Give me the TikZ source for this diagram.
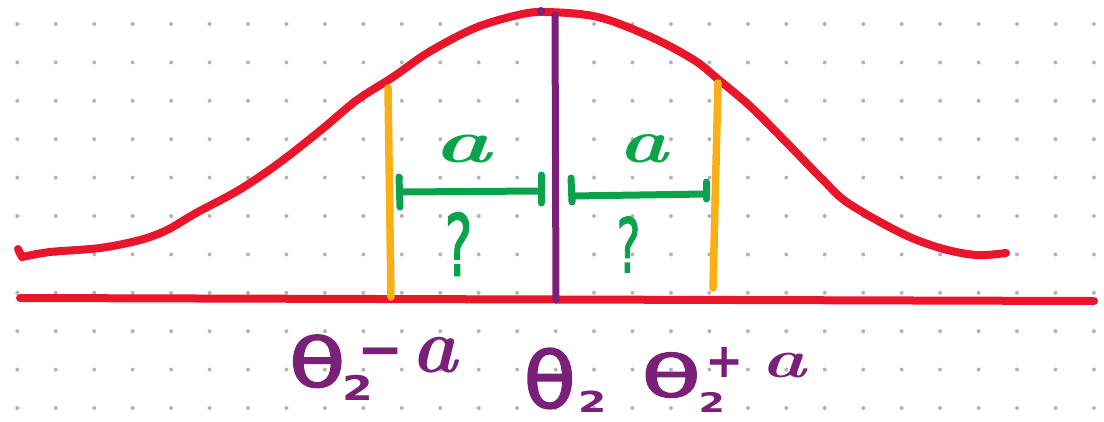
\documentclass[tikz,border=0pt]{standalone}
\usepackage{fontspec}
\newfontfamily\djv{DejaVu Sans}[FakeBold=2]
\newfontfamily\djb{DejaVu Sans Bold}
\definecolor{cred}{HTML}{E8152B}
\definecolor{corange}{HTML}{FBAF17}
\definecolor{cpurple}{HTML}{7B2079}
\definecolor{cgreen}{HTML}{0BA24C}
\definecolor{cdot}{HTML}{B4B4B4}
\newcommand{\pc}[3]{\rlap{\hspace*{#1pt}\raisebox{#2pt}{\makebox[0pt][c]{#3}}}}
\newcommand{\thg}[2]{\scalebox{#2}[1]{\djv\fontsize{#1}{#1}\selectfont θ}}
\newcommand{\dg}[3]{\scalebox{#2}[1]{\djv\fontsize{#1}{#1}\selectfont #3}}
\newcommand{\bg}[3]{\scalebox{#2}[1]{\djb\fontsize{#1}{#1}\selectfont #3}}
\newcommand{\ag}[2]{\scalebox{#2}[1]{\fontsize{#1}{#1}\selectfont\bfseries\itshape a}}
\tikzset{
  redline/.style={draw=cred, line width=8pt, line cap=round, line join=round},
  orangeline/.style={draw=corange, line width=7.5pt, line cap=round},
  purpline/.style={draw=cpurple, line width=7pt, line cap=round},
  greenline/.style={draw=cgreen, line width=7pt, line cap=round, line join=round},
  lbl/.style={inner sep=0pt, text=cpurple},
  glbl/.style={inner sep=0pt, text=cgreen},
}
\begin{document}
\begin{tikzpicture}[x=1pt,y=-1pt]
\useasboundingbox (0,0) rectangle (1104,421);
\fill[white] (0,0) rectangle (1104,421);
% dot grid
\foreach \i in {0,...,28}{\foreach \j in {0,...,10}{
  \fill[cdot] ({17.3+38.45*\i},{24+38.4*\j}) circle (2);}}
% bell curve
\draw[redline] (18,249) -- (22,257);
\draw[redline] plot[smooth, tension=0.55] coordinates {(22,257) (50,252) (100,248) (140,240) (167,230) (196,213) (239,190) (279,163) (321,130) (357,100) (393,77) (429,52) (475,28) (518,15) (546,12) (598,17) (651,37) (694,60) (719,80) (751,107) (787,143) (823,180) (848,203) (901,233) (940,248) (976,255) (1006,253)};
% axis
\coordinate (axl) at (20,298);
\coordinate (axr) at (1094,301);
\draw[redline] (axl) -- (axr);
% orange bounds
\coordinate (ol1) at (388,88); \coordinate (ol2) at (391,297);
\coordinate (or1) at (718,83); \coordinate (or2) at (713,288);
\draw[orangeline] (ol1) -- (ol2);
\draw[orangeline] (or1) -- (or2);
% purple centre
\coordinate (p1) at (555,15); \coordinate (p2) at (556,300);
\draw[purpline] (p1) -- (p2);
\fill[cpurple] (541,11) circle (4);
% green rulers
\coordinate (g1a) at (399,177); \coordinate (g1b) at (400,207);
\coordinate (g1c) at (400,192); \coordinate (g1d) at (541,191);
\coordinate (g1e) at (541,175); \coordinate (g1f) at (541,203);
\draw[greenline] (g1a) -- (g1b);
\draw[greenline] (g1c) -- (g1d);
\draw[greenline] (g1e) -- (g1f);
\coordinate (g2a) at (571,178); \coordinate (g2b) at (572,202);
\coordinate (g2c) at (572,196); \coordinate (g2d) at (706,194);
\coordinate (g2e) at (706,182); \coordinate (g2f) at (706,199);
\draw[greenline] (g2a) -- (g2b) -- (g2c) -- (g2d);
\draw[greenline] (g2e) -- (g2f);
% green labels
\node[glbl] (al) at (462.5,148.5) {\ag{61}{1.6}};
\node[glbl] (ar) at (643,149) {\ag{62}{1.35}};
\node[glbl] (ql) at (458.5,244) {\dg{85}{0.62}{?}};
\node[glbl] (qr) at (628.5,244.5) {\dg{75}{0.6}{?}};
% purple labels
\node[lbl, anchor=base west] (lab1) at (291,387)
  {\pc{26}{0}{\thg{68}{1.37}}\pc{66.5}{-13}{\bg{34}{1.3}{2}}\pc{89}{18}{\bg{58}{0.95}{−}}\pc{143.5}{15}{\ag{78}{1}}\hspace*{166pt}};
\node[lbl, anchor=base west] (lab2) at (525,408)
  {\pc{24.5}{0}{\thg{78}{1.1}}\pc{67}{-4}{\bg{29}{1.4}{2}}\hspace*{82pt}};
\node[lbl, anchor=base west] (lab3) at (643,397)
  {\pc{28}{0}{\thg{58}{1.7}}\pc{68.5}{-15}{\bg{27}{1.4}{2}}\pc{81}{20}{\bg{48}{0.95}{+}}\pc{140.5}{20}{\ag{54}{1.4}}\hspace*{172pt}};
\end{tikzpicture}
\end{document}
